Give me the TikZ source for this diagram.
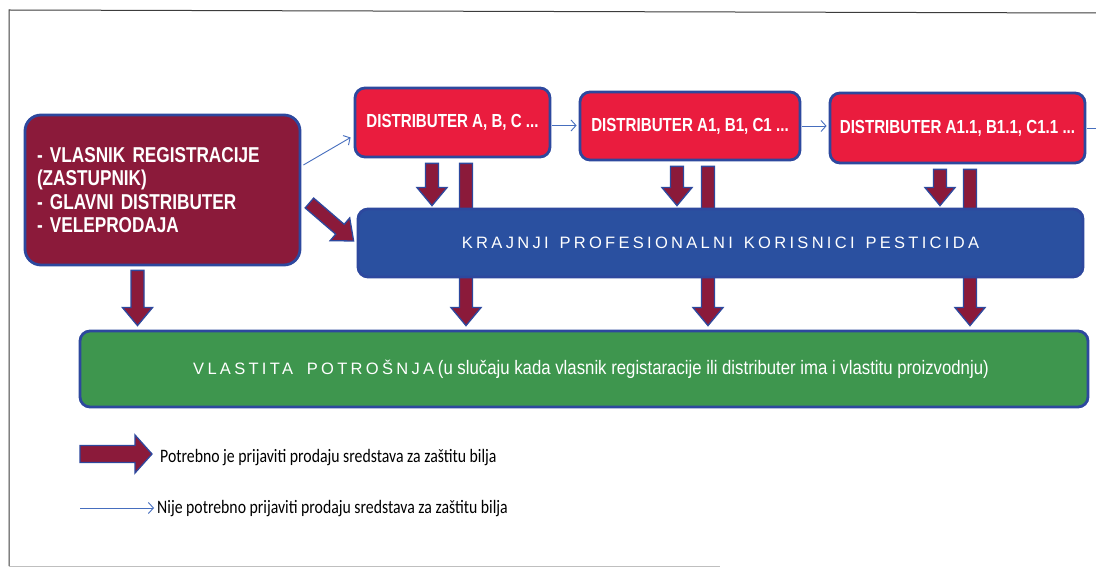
\documentclass[tikz,border=0pt]{standalone}
\usepackage{fontspec}
\setmainfont{Liberation Sans}
\newfontfamily\nar{Liberation Sans}[FakeStretch=0.86]
\newfontfamily\narb{Liberation Sans Bold}[FakeStretch=0.8]
\newfontfamily\spc{Liberation Sans}[LetterSpace=20]
\newfontfamily\leg{Carlito}[FakeStretch=0.83]
\usetikzlibrary{arrows.meta,calc}
\definecolor{cMaroon}{RGB}{139,26,58}
\definecolor{cRed}{RGB}{234,28,62}
\definecolor{cBlue}{RGB}{42,80,160}
\definecolor{cGreen}{RGB}{62,150,78}
\definecolor{cEdge}{RGB}{45,72,158}
\definecolor{cThin}{RGB}{70,110,190}
\definecolor{cFrame}{RGB}{60,60,60}
\begin{document}
\begin{tikzpicture}[x=1pt,y=-1pt,
  box/.style={draw=cEdge, line width=2.8pt, rounded corners=10pt, text=white, inner sep=0pt, align=center},
  distbox/.style={box, fill=cRed, font={\narb\fontsize{18.9}{22}\selectfont}},
  thinarrow/.style={draw=cThin, line width=0.9pt, -{Straight Barb[length=5pt,width=11pt]}},
  thinline/.style={draw=cThin, line width=0.9pt},
  fat/.style n args={3}{fill=cMaroon, draw=cEdge, line width=1.3pt, line join=miter,
    to path={
      ($(\tikztostart)!#1!90:(\tikztotarget)$)
      -- ($(\tikztotarget)!#3!(\tikztostart)!#1!90:(\tikztotarget)$)
      -- ($(\tikztotarget)!#3!(\tikztostart)!#2!90:(\tikztotarget)$)
      -- (\tikztotarget)
      -- ($(\tikztotarget)!#3!(\tikztostart)!#2!-90:(\tikztotarget)$)
      -- ($(\tikztotarget)!#3!(\tikztostart)!#1!-90:(\tikztotarget)$)
      -- ($(\tikztostart)!#1!-90:(\tikztotarget)$)
      -- cycle}},
  fatstd/.style={fat={6.5pt}{15pt}{18pt}},
  legtext/.style={anchor=base west, inner sep=0pt, font={\leg\fontsize{19}{21}\selectfont}}
]
\useasboundingbox (0,0) rectangle (1096,569);
\fill[white] (0,0) rectangle (1096,569);
% frame
\draw[cFrame, line width=1pt] (1096,13) -- (9,10) -- (9,566);
\draw[black!25, line width=1pt] (9,566) -- (720,566);

% boxes
\node[box, fill=cMaroon, minimum width=275pt, minimum height=150pt, rounded corners=16pt,
      text width=251pt, align=left, font={\narb\fontsize{21.5}{23.5}\selectfont}] (mar) at (162.5,190)
  {- VLASNIK REGISTRACIJE\\(ZASTUPNIK)\\- GLAVNI DISTRIBUTER\\- VELEPRODAJA};
\node[distbox, minimum width=195pt, minimum height=69pt] (dA) at (452.5,122.5) {DISTRIBUTER A, B, C ...};
\node[distbox, minimum width=220pt, minimum height=68pt] (dA1) at (690,126) {DISTRIBUTER A1, B1, C1 ...};
\node[distbox, minimum width=255pt, minimum height=70pt] (dA2) at (957.5,128) {DISTRIBUTER A1.1, B1.1, C1.1 ...};
\node[box, fill=cGreen, minimum width=1008pt, minimum height=76pt] (gr) at (584,369)
  {\hspace*{14pt}{\spc\fontsize{16.5}{18}\selectfont VLASTITA\hspace{6pt} POTRO\v{S}NJA}\hspace{1pt} {\nar\fontsize{19.5}{22}\selectfont(u slučaju kada vlasnik registaracije ili distributer ima i vlastitu proizvodnju)}};

% long arrows (behind the blue box)
\coordinate (lA1) at ($(dA.south)+(13.5,5)$);
\coordinate (lA2) at ($(lA1 |- gr.north)+(0,-4)$);
\coordinate (lB1) at ($(dA1.south)+(18,5)$);
\coordinate (lB2) at ($(lB1 |- gr.north)+(0,-4)$);
\coordinate (lC1) at ($(dA2.south)+(12.5,5)$);
\coordinate (lC2) at ($(lC1 |- gr.north)+(0,-4)$);
\draw[fatstd] (lA1) to (lA2);
\draw[fatstd] (lB1) to (lB2);
\draw[fatstd] (lC1) to (lC2);

\node[box, fill=cBlue, minimum width=725pt, minimum height=68pt, font={\spc\fontsize{16.5}{18}\selectfont}] (kr) at (720.5,243)
  {KRAJNJI\hspace{3pt} PROFESIONALNI\hspace{3pt} KORISNICI\hspace{3pt} PESTICIDA};

% short arrows
\coordinate (sA1) at ($(dA.south)+(-20.5,5)$);
\coordinate (sA2) at ($(sA1 |- kr.north)+(0,-2)$);
\coordinate (sB1) at ($(dA1.south)+(-13,5)$);
\coordinate (sB2) at ($(sB1 |- kr.north)+(0,-2)$);
\coordinate (sC1) at ($(dA2.south)+(-17.5,5)$);
\coordinate (sC2) at ($(sC1 |- kr.north)+(0,-2)$);
\draw[fatstd] (sA1) to (sA2);
\draw[fatstd] (sB1) to (sB2);
\draw[fatstd] (sC1) to (sC2);

% from the owner box
\coordinate (mD1) at ($(mar.south)+(-25,4)$);
\coordinate (mD2) at ($(mD1 |- gr.north)+(0,-4)$);
\draw[fatstd] (mD1) to (mD2);
\coordinate (mG1) at ($(mar.east)+(8,13)$);
\coordinate (mG2) at ($(kr.west)+(-3,-2)$);
\draw[fatstd] (mG1) to (mG2);

% thin arrows
\draw[thinarrow] ($(mar.east)+(2,-25)$) -- ($(dA.west)+(-3,15)$);
\draw[thinarrow] ($(dA.east)+(1,3)$) -- ($(dA.east -| dA1.west)+(-2,3)$);
\draw[thinarrow] ($(dA1.east)+(1,0)$) -- ($(dA1.east -| dA2.west)+(-2,0)$);
\coordinate (outR) at (1096,128);
\draw[thinline] ($(dA2.east)+(1,0)$) -- (outR);

% legend
\coordinate (lg1s) at (80,454);
\coordinate (lg1e) at (152,454);
\draw[fat={8.5pt}{19pt}{17pt}] (lg1s) to (lg1e);
\node[legtext] (lt1) at (160,463) {Potrebno je prijaviti prodaju sredstava za zaštitu bilja};
\node[legtext] (lt2) at (157,513) {Nije potrebno prijaviti prodaju sredstava za zaštitu bilja};
\coordinate (lg2s) at (80,508);
\draw[thinarrow] (lg2s) -- ($(lg2s -| lt2.west)+(-3,0)$);
\end{tikzpicture}
\end{document}
